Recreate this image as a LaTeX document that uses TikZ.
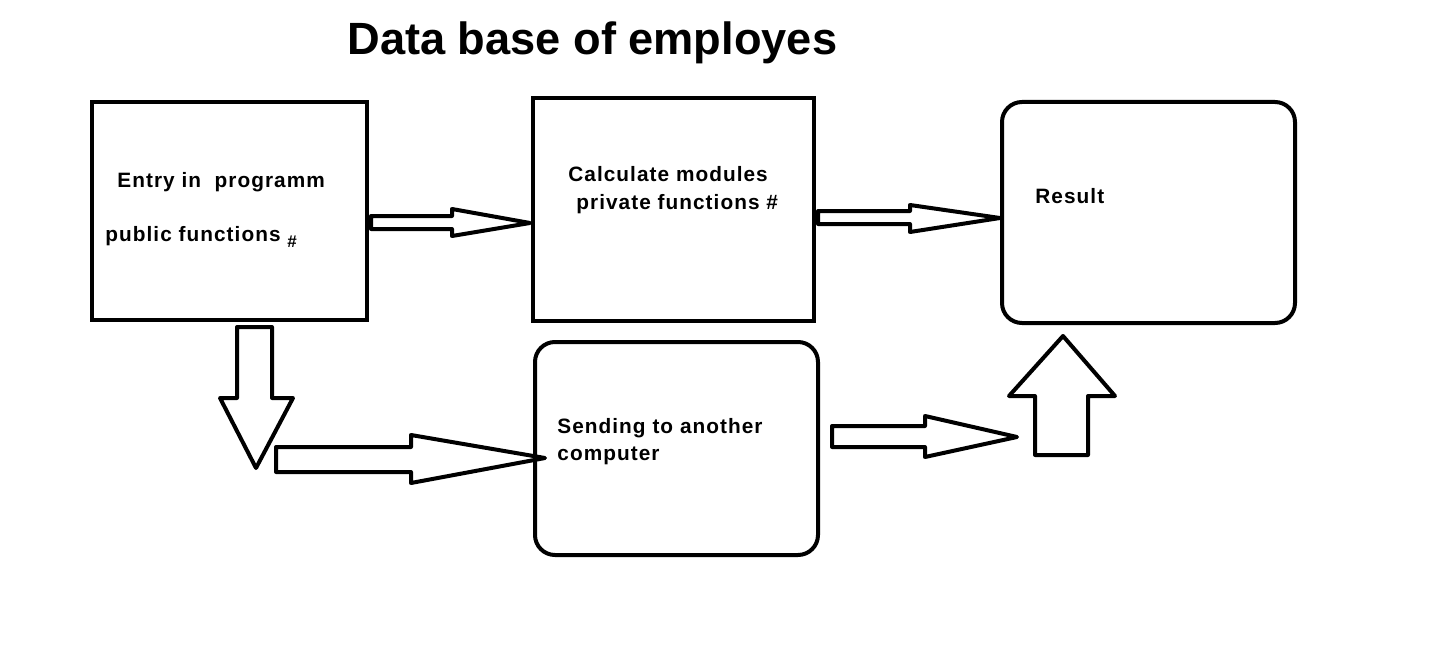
\documentclass[tikz,border=0pt]{standalone}
\usepackage{fontspec}
\setmainfont{Liberation Sans}
\newfontfamily\boxfont[LetterSpace=5]{Liberation Sans}
\usetikzlibrary{positioning}

\tikzset{
  plainbox/.style={draw, line width=2pt, inner sep=0pt},
  roundbox/.style={plainbox, rounded corners=10pt},
  boxtext/.style={anchor=base west, inner sep=0pt, font=\boxfont\fontsize{10.4}{12}\selectfont\bfseries},
  blockarrow/.style={draw, line width=2pt, line join=round, fill=white}
}

\begin{document}
\begin{tikzpicture}[x=0.5pt, y=-0.5pt]

  % Fix the size of the page
  \useasboundingbox (0,0) rectangle (1446,647);

  % Title
  \node[anchor=base west, inner sep=0pt, font=\fontsize{22.6}{26}\selectfont\bfseries] (title) at (347,55) {Data base of employes};

  % Draw the four boxes
  \node[plainbox, minimum width=137.5pt, minimum height=109pt] (entry) at (229.5,211) {};
  \node[plainbox, minimum width=140.5pt, minimum height=111.5pt] (calc) at (673.5,209.5) {};
  \node[roundbox, minimum width=146.5pt, minimum height=110.5pt] (result) at (1148.5,212.5) {};
  \node[roundbox, minimum width=141.5pt, minimum height=106.5pt] (send) at (676.5,448.5) {};

  % Texts inside the boxes
  \node[boxtext] (entryA) at (117,187) {Entry in~ programm};
  \node[boxtext] (entryB) at (105,242) {public functions \raisebox{-2.5pt}{\fontsize{8.5}{10}\selectfont\#}};
  \node[boxtext] (calcA) at (568,182) {Calculate modules};
  \node[boxtext] (calcB) at (576,209) {private functions \#};
  \node[boxtext] (resultA) at (1035,203) {Result};
  \node[boxtext] (sendA) at (557,433) {Sending to another};
  \node[boxtext] (sendB) at (557,460) {computer};

  % Tips of the block arrows
  \coordinate (T1) at (530,223);
  \coordinate (T2) at (1000,218);
  \coordinate (T3) at (256,468);
  \coordinate (T4) at (545,458);
  \coordinate (T5) at (1017,437);
  \coordinate (T6) at (1063,336);

  % Block arrow from entry to calc
  \draw[blockarrow] (371,216) -- (452,216) -- (452,209) -- (T1) -- (452,236) -- (452,229) -- (371,229) -- cycle;

  % Block arrow from calc to result
  \draw[blockarrow] (818,211) -- (910,211) -- (910,205) -- (T2) -- (910,232) -- (910,224) -- (818,224) -- cycle;

  % Block arrow down from entry
  \draw[blockarrow] (237,327) -- (272,327) -- (272,398) -- (293,398) -- (T3) -- (220,398) -- (237,398) -- cycle;

  % Block arrow to send
  \draw[blockarrow] (276,447) -- (411,447) -- (411,435) -- (T4) -- (411,483) -- (411,472) -- (276,472) -- cycle;

  % Block arrow out of send
  \draw[blockarrow] (832,426) -- (925,426) -- (925,416) -- (T5) -- (925,457) -- (925,447) -- (832,447) -- cycle;

  % Block arrow up to result
  \draw[blockarrow] (1035,455) -- (1035,396) -- (1009,396) -- (T6) -- (1115,396) -- (1088,396) -- (1088,455) -- cycle;

\end{tikzpicture}
\end{document}
